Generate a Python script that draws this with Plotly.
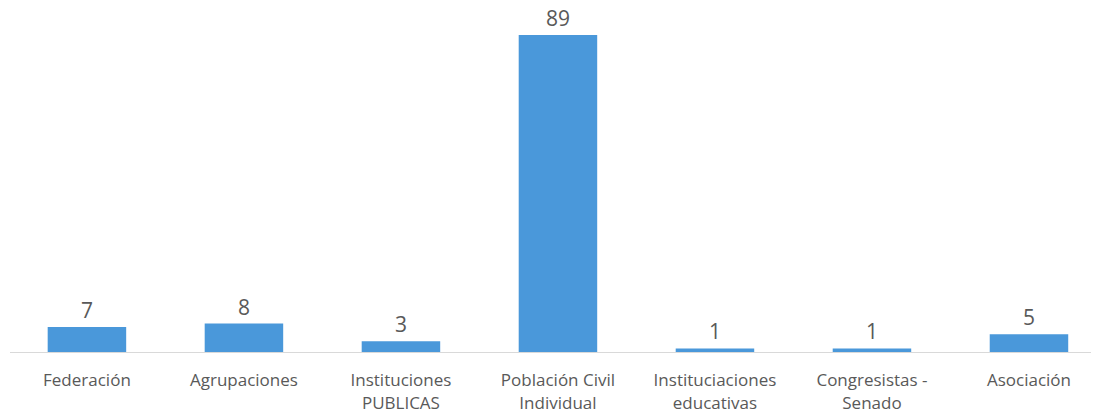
import plotly.graph_objects as go

categories = ["Federación", "Agrupaciones", "Instituciones<br>PUBLICAS", "Población Civil<br>Individual",
              "Instituciaciones<br>educativas", "Congresistas -<br>Senado", "Asociación"]
values = [7, 8, 3, 89, 1, 1, 5]

fig = go.Figure(go.Bar(
    x=list(range(len(categories))), y=values,
    width=0.5,
    marker=dict(color="#4A98DA", line=dict(width=0)),
    text=[str(v) for v in values], textposition="outside",
    textfont=dict(family="Open Sans", size=21, color="#595959"),
    cliponaxis=False,
))

fig.update_layout(
    width=1099, height=414,
    margin=dict(l=2, r=0, t=12, b=70),
    paper_bgcolor="white", plot_bgcolor="white",
    showlegend=False,
    bargap=0.5,
    font=dict(family="Open Sans", color="#595959"),
)
fig.update_xaxes(
    range=[-0.49, 6.497],
    tickmode="array", tickvals=list(range(len(categories))), ticktext=categories,
    tickfont=dict(family="Open Sans", size=17, color="#595959"),
    showline=True, linecolor="#D9D9D9", linewidth=1,
    showgrid=False, ticks="", ticklabelstandoff=13,
)
fig.update_yaxes(range=[0, 93.2], visible=False, showgrid=False)

fig.write_html("out.html")
